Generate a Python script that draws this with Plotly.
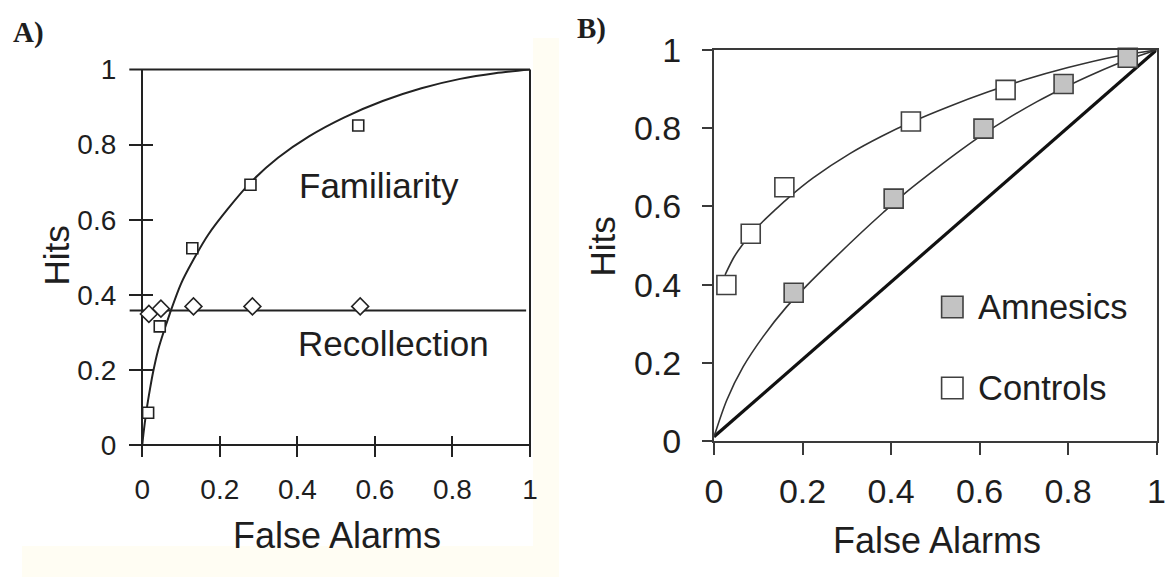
import plotly.graph_objects as go

W, H = 1168, 577

# ---------------- Panel A: familiarity / recollection ROC ----------------
fam_fa = [0.015, 0.045, 0.129, 0.279, 0.557]
fam_hits = [0.086, 0.316, 0.524, 0.693, 0.851]

rec_fa = [0.017, 0.048, 0.132, 0.284, 0.562]
rec_hits = [0.349, 0.363, 0.369, 0.369, 0.369]

fam_curve_fa = [0, 0.003, 0.011, 0.02, 0.028, 0.04, 0.05, 0.071, 0.1, 0.13, 0.17,
                0.22, 0.28, 0.35, 0.43, 0.52, 0.62, 0.72, 0.82, 0.91, 1.0]
fam_curve_hits = [0, 0.03, 0.093, 0.15, 0.195, 0.25, 0.285, 0.35, 0.43, 0.49, 0.56,
                  0.628, 0.70, 0.765, 0.822, 0.872, 0.916, 0.95, 0.975, 0.99, 1.0]

rec_line_fa = [-0.033, 0.99]
rec_line_hits = [0.358, 0.358]

# ---------------- Panel B: amnesics vs controls ----------------
ctrl_fa = [0.028, 0.083, 0.159, 0.445, 0.659]
ctrl_hits = [0.399, 0.530, 0.649, 0.817, 0.898]

amn_fa = [0.180, 0.406, 0.609, 0.790, 0.935]
amn_hits = [0.379, 0.620, 0.799, 0.913, 0.980]

ctrl_curve_fa = [0.025, 0.045, 0.063, 0.084, 0.111, 0.14, 0.168, 0.224, 0.307, 0.38,
                 0.445, 0.53, 0.62, 0.70, 0.80, 0.91, 1.0]
ctrl_curve_hits = [0.425, 0.47, 0.50, 0.53, 0.562, 0.593, 0.622, 0.673, 0.735, 0.78,
                   0.815, 0.855, 0.893, 0.923, 0.955, 0.984, 1.0]

amn_curve_fa = [0, 0.029, 0.066, 0.111, 0.164, 0.21, 0.27, 0.33, 0.383, 0.436, 0.5,
                0.56, 0.609, 0.66, 0.73, 0.79, 0.86, 0.935, 1.0]
amn_curve_hits = [0.011, 0.105, 0.19, 0.267, 0.343, 0.398, 0.465, 0.53, 0.585, 0.638,
                  0.695, 0.746, 0.785, 0.822, 0.868, 0.903, 0.94, 0.975, 1.0]

chance_fa = [0, 1]
chance_hits = [0.011, 1]

tick_vals = [0, 0.2, 0.4, 0.6, 0.8, 1]
tick_text = ["0", "0.2", "0.4", "0.6", "0.8", "1"]

legend_names = ["Amnesics", "Controls"]

# ---------------- styling ----------------
FONT = "Liberation Sans, Arial, sans-serif"
INK = "#1e1e1e"
AX_A = "#222222"
AX_B = "#3a3a3a"
GRAY_FILL = "#c3c3c3"
CREAM = "#fffdf3"


def px(x):
    return x / W


def py(y):
    return 1 - y / H


fig = go.Figure()

# Panel A traces
fig.add_trace(go.Scatter(x=fam_curve_fa, y=fam_curve_hits, mode="lines",
                         line=dict(color=AX_A, width=2, shape="spline", smoothing=0.9),
                         xaxis="x", yaxis="y", showlegend=False, hoverinfo="skip"))
fig.add_trace(go.Scatter(x=rec_line_fa, y=rec_line_hits, mode="lines",
                         line=dict(color=AX_A, width=2),
                         xaxis="x", yaxis="y", showlegend=False, hoverinfo="skip"))
fig.add_trace(go.Scatter(x=fam_fa, y=fam_hits, mode="markers",
                         marker=dict(symbol="square", size=11, color="white",
                                     line=dict(color=AX_A, width=1.6)),
                         xaxis="x", yaxis="y", showlegend=False, cliponaxis=False))
fig.add_trace(go.Scatter(x=rec_fa, y=rec_hits, mode="markers",
                         marker=dict(symbol="diamond", size=13, color="white",
                                     line=dict(color=AX_A, width=1.6)),
                         xaxis="x", yaxis="y", showlegend=False, cliponaxis=False))

# Panel B traces
fig.add_trace(go.Scatter(x=chance_fa, y=chance_hits, mode="lines",
                         line=dict(color="#111111", width=3.2),
                         xaxis="x2", yaxis="y2", showlegend=False, hoverinfo="skip"))
fig.add_trace(go.Scatter(x=amn_curve_fa, y=amn_curve_hits, mode="lines",
                         line=dict(color="#333333", width=1.6, shape="spline", smoothing=0.8),
                         xaxis="x2", yaxis="y2", showlegend=False, hoverinfo="skip"))
fig.add_trace(go.Scatter(x=ctrl_curve_fa, y=ctrl_curve_hits, mode="lines",
                         line=dict(color="#333333", width=1.6, shape="spline", smoothing=0.8),
                         xaxis="x2", yaxis="y2", showlegend=False, hoverinfo="skip"))
fig.add_trace(go.Scatter(x=ctrl_fa, y=ctrl_hits, mode="markers", name=legend_names[1],
                         marker=dict(symbol="square", size=19, color="white",
                                     line=dict(color="#404040", width=1.6)),
                         xaxis="x2", yaxis="y2", showlegend=False, cliponaxis=False))
fig.add_trace(go.Scatter(x=amn_fa, y=amn_hits, mode="markers", name=legend_names[0],
                         marker=dict(symbol="square", size=19, color=GRAY_FILL,
                                     line=dict(color="#404040", width=1.6)),
                         xaxis="x2", yaxis="y2", showlegend=False, cliponaxis=False))

# Axis geometry (pixels)
A_left_ext, A_x0, A_x1 = 129.3, 142.3, 530.0
A_y1, A_y0, A_bot_ext = 69.5, 445.0, 457.0
B_x0, B_x1 = 714.0, 1156.5
B_y1, B_y0 = 50.0, 441.0

a_xr = [-(A_x0 - A_left_ext) / (A_x1 - A_x0), 1]
a_yr = [-(A_bot_ext - A_y0) / (A_y0 - A_y1), 1]

common_tick = dict(tickvals=tick_vals, ticktext=tick_text, showgrid=False,
                   tickwidth=2, fixedrange=True, automargin=False)

layout_axes = dict(
    xaxis=dict(domain=[px(A_left_ext), px(A_x1)], range=a_xr, anchor="y",
               ticks="inside", ticklen=21, showline=False, tickcolor=AX_A,
               zeroline=True, zerolinecolor=AX_A, zerolinewidth=2,
               tickfont=dict(size=28, color=INK, family=FONT),
               ticklabelstandoff=13, **common_tick),
    yaxis=dict(domain=[py(A_bot_ext), py(A_y1)], range=a_yr, anchor="x",
               ticks="inside", ticklen=24, showline=False, tickcolor=AX_A,
               zeroline=True, zerolinecolor=AX_A, zerolinewidth=2,
               tickfont=dict(size=28, color=INK, family=FONT),
               ticklabelstandoff=12, **common_tick),
    xaxis2=dict(domain=[px(B_x0), px(B_x1)], range=[0, 1], anchor="y2",
                ticks="outside", ticklen=12, showline=True, mirror=True,
                linecolor=AX_B, linewidth=2, zeroline=False, tickcolor=AX_B,
                tickfont=dict(size=34, color=INK, family=FONT),
                ticklabelstandoff=7, **common_tick),
    yaxis2=dict(domain=[py(B_y0), py(B_y1)], range=[0, 1], anchor="x2",
                ticks="outside", ticklen=10, showline=True, mirror=True,
                linecolor=AX_B, linewidth=2, zeroline=False, tickcolor=AX_B,
                tickfont=dict(size=34, color=INK, family=FONT),
                ticklabelstandoff=14, **common_tick),
)

shapes = [
    # faint cream backdrop behind panel A
    dict(type="rect", xref="paper", yref="paper", x0=px(22), x1=px(559),
         y0=py(577), y1=py(38), fillcolor=CREAM, line=dict(width=0), layer="below"),
    dict(type="rect", xref="paper", yref="paper", x0=0, x1=px(533),
         y0=py(546), y1=1, fillcolor="white", line=dict(width=0), layer="below"),
    # panel A frame: top and right edges
    dict(type="line", xref="x domain", yref="y domain", x0=0, x1=1, y0=1, y1=1,
         line=dict(color=AX_A, width=2)),
    dict(type="line", xref="x domain", yref="y domain", x0=1, x1=1, y0=0, y1=1,
         line=dict(color=AX_A, width=2)),
    # panel B legend keys
    dict(type="rect", xref="paper", yref="paper", x0=px(941.6), x1=px(963),
         y0=py(317.7), y1=py(296.3), fillcolor=GRAY_FILL,
         line=dict(color="#404040", width=1.6)),
    dict(type="rect", xref="paper", yref="paper", x0=px(941.6), x1=px(963),
         y0=py(398.7), y1=py(377.3), fillcolor="white",
         line=dict(color="#404040", width=1.6)),
]


def label(text, x, y, size, angle=0, xanchor="center", bold_serif=False, xref="paper", yref="paper"):
    fam = "Liberation Serif, Times New Roman, serif" if bold_serif else FONT
    t = f"<b>{text}</b>" if bold_serif else text
    return dict(text=t, x=x, y=y, xref=xref, yref=yref, showarrow=False,
                xanchor=xanchor, yanchor="middle", textangle=angle,
                font=dict(size=size, color=INK, family=fam))


annotations = [
    label("A)", px(28.5), py(32.5), 29, bold_serif=True),
    label("B)", px(591), py(28), 29, bold_serif=True),
    label("Familiarity", 0.40, 0.692, 35, xanchor="left", xref="x", yref="y"),
    label("Recollection", 0.396, 0.271, 35, xanchor="left", xref="x", yref="y"),
    label("Hits", px(55.5), py(256), 35, angle=-90),
    label("False Alarms", px(337), py(535), 36),
    label("Hits", px(602.5), py(247), 35, angle=-90),
    label("False Alarms", px(937), py(540), 36),
    label(legend_names[0], px(975.6), py(307), 34.5, xanchor="left"),
    label(legend_names[1], px(975.6), py(388), 34.5, xanchor="left"),
]

fig.update_layout(
    width=W, height=H, autosize=False,
    margin=dict(l=0, r=0, t=0, b=0, pad=0),
    paper_bgcolor="white", plot_bgcolor="white",
    showlegend=False,
    shapes=shapes, annotations=annotations,
    font=dict(family=FONT, color=INK),
    **layout_axes,
)

fig.write_html("out.html", config={"displayModeBar": False})
